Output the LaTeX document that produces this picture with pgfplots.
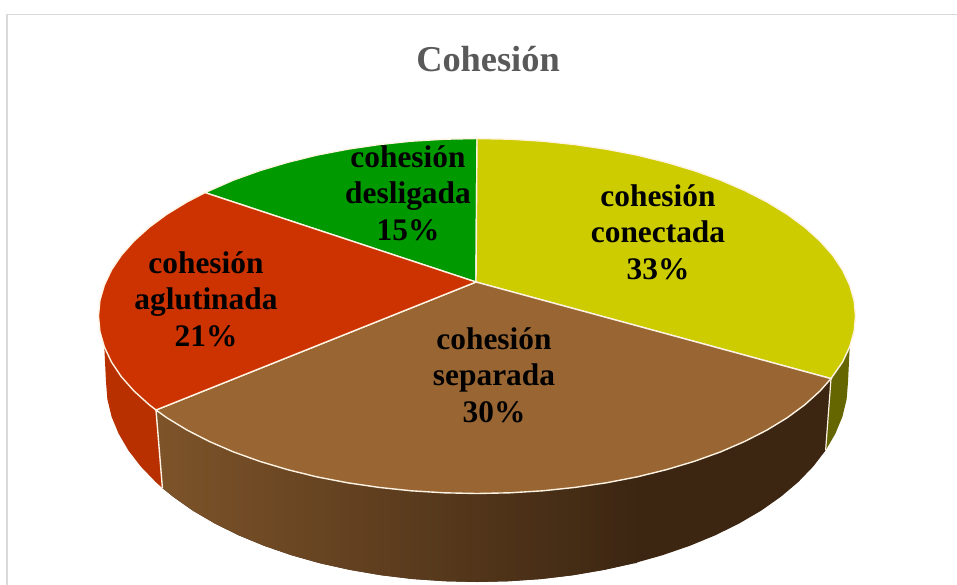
\documentclass[border=0pt]{standalone}
\usepackage{fontspec}
\setmainfont{Liberation Serif}
\usepackage{pgfplots}
\pgfplotsset{compat=1.18}

\definecolor{amarillo}{HTML}{CCCC00}
\definecolor{amarilloL}{HTML}{666600}
\definecolor{verde}{HTML}{009900}
\definecolor{rojo}{HTML}{CC3300}
\definecolor{rojoL}{HTML}{B83000}
\definecolor{cafe}{HTML}{996633}
\definecolor{cafeO}{HTML}{3C2612}
\definecolor{borde}{HTML}{FFF4E4}
\definecolor{marco}{HTML}{DADADA}
\definecolor{titulo}{HTML}{595959}

\newcommand{\etiq}{\bfseries\fontsize{31.5}{36.5}\selectfont}

\begin{document}
\begin{tikzpicture}
\begin{axis}[
    scale only axis,
    width=957bp, height=585bp,
    xmin=0, xmax=957,
    ymin=0, ymax=585,
    y dir=reverse,
    axis lines=none,
    no markers,
]
% fondo y marco
\addplot[fill=white, draw=none] coordinates {(0,0)(957,0)(957,585)(0,585)} --cycle;
\addplot[marco, line width=1.6pt] coordinates {(7,585)(7,14.5)(957,14.5)};

% paredes laterales
\addplot[fill=rojoL, draw=none] coordinates {
    (156,410)(149.2,404.75)(134,391)(121.3,376.7)(111.4,361.9)(104.3,346.8)
    (106,382)(107.4,399.4)(111.6,416.7)(118.7,433.8)(128.4,450.4)(140.8,466.5)
    (155.7,482)(162.4,488)} --cycle;
\addplot[fill=amarilloL, draw=none] coordinates {
    (831,378.6)(842.6,361.9)(849.7,346.8)(848,382)(846.6,399.4)(842.4,416.7)
    (835.3,433.8)(825.6,450.4)} --cycle;
% pared cafe: oscura entera, y el degradado solo hasta x = 640
\addplot[fill=cafeO, draw=none] coordinates {
    (156,410)(166.9,417.8)(187.1,430.1)(209.4,441.5)(233.7,452)(259.9,461.4)
    (287.8,469.7)(317,476.9)(347.6,482.8)(379,487.4)(411.3,490.8)(444,492.8)
    (477,493.5)(510,492.8)(542.7,490.8)(575,487.4)(606.4,482.8)(637,476.9)
    (666.3,469.7)(694.1,461.4)(720.3,452)(744.6,441.5)(766.9,430.1)(787.1,417.8)
    (804.8,404.75)(820,391)(831,378.6)
    (825.6,450.4)(813.2,466.5)(798.3,482)(780.9,496.7)(761.2,510.6)(739.3,523.4)
    (715.5,535.2)(689.8,545.8)(662.5,555.2)(633.8,563.3)(603.9,569.9)(573,575.2)
    (541.4,579)(509.4,581.2)(477,582)(444.6,581.2)(412.6,579)(381,575.2)
    (350.1,569.9)(320.2,563.3)(291.5,555.2)(264.2,545.8)(238.5,535.2)(214.7,523.4)
    (192.8,510.6)(173.1,496.7)(162.4,488)} --cycle;
\addplot[draw=none, left color=cafe!82!black, right color=cafeO] coordinates {
    (156,410)(166.9,417.8)(187.1,430.1)(209.4,441.5)(233.7,452)(259.9,461.4)
    (287.8,469.7)(317,476.9)(347.6,482.8)(379,487.4)(411.3,490.8)(444,492.8)
    (477,493.5)(510,492.8)(542.7,490.8)(575,487.4)(606.4,482.8)(637,476.9)
    (637,563)(633.8,563.3)(603.9,569.9)(573,575.2)
    (541.4,579)(509.4,581.2)(477,582)(444.6,581.2)(412.6,579)(381,575.2)
    (350.1,569.9)(320.2,563.3)(291.5,555.2)(264.2,545.8)(238.5,535.2)(214.7,523.4)
    (192.8,510.6)(173.1,496.7)(162.4,488)} --cycle;
\addplot[borde, line width=1.4pt] coordinates {(156,410)(162.4,488)};
\addplot[borde, line width=1.2pt] coordinates {(831,378.6)(825.6,450.4)};

% cara superior
\addplot[fill=verde, draw=borde, line width=1.4pt] coordinates {
    (476,282)(205,192.6)(233.7,180)(259.9,170.6)(287.8,162.3)(317,155.1)
    (347.6,149.2)(379,144.6)(411.3,141.2)(444,139.2)(477,138.5)} --cycle;
\addplot[fill=amarillo, draw=borde, line width=1.4pt] coordinates {
    (476,282)(477,138.5)(510,139.2)(542.7,141.2)(575,144.6)(606.4,149.2)(637,155.1)
    (666.3,162.3)(694.1,170.6)(720.3,180)(744.6,190.5)(766.9,201.9)(787.1,214.2)
    (804.8,227.25)(820,241)(832.7,255.3)(842.6,270.1)(849.7,285.2)(854.1,300.5)
    (855.5,316)(854.1,331.5)(849.7,346.8)(842.6,361.9)(831,378.6)} --cycle;
\addplot[fill=cafe, draw=borde, line width=1.4pt] coordinates {
    (476,282)(831,378.6)(820,391)(804.8,404.75)(787.1,417.8)(766.9,430.1)(744.6,441.5)
    (720.3,452)(694.1,461.4)(666.3,469.7)(637,476.9)(606.4,482.8)(575,487.4)
    (542.7,490.8)(510,492.8)(477,493.5)(444,492.8)(411.3,490.8)(379,487.4)
    (347.6,482.8)(317,476.9)(287.8,469.7)(259.9,461.4)(233.7,452)(209.4,441.5)
    (187.1,430.1)(166.9,417.8)(156,410)} --cycle;
\addplot[fill=rojo, draw=borde, line width=1.4pt] coordinates {
    (476,282)(156,410)(149.2,404.75)(134,391)(121.3,376.7)(111.4,361.9)(104.3,346.8)
    (99.9,331.5)(98.5,316)(99.9,300.5)(104.3,285.2)(111.4,270.1)(121.3,255.3)
    (134,241)(149.2,227.25)(166.9,214.2)(187.1,201.9)(205,192.6)} --cycle;

% textos
\node[text=titulo, font=\bfseries\fontsize{36.5}{40}\selectfont] at (axis cs:488,59) {Cohesión};
\node[align=center, text=black, font=\etiq] at (axis cs:408,193) {cohesión\\desligada\\15\%};
\node[align=center, text=black, font=\etiq] at (axis cs:206,299) {cohesión\\aglutinada\\21\%};
\node[align=center, text=black, font=\etiq] at (axis cs:658,232) {cohesión\\conectada\\33\%};
\node[align=center, text=black, font=\etiq] at (axis cs:494,375) {cohesión\\separada\\30\%};
\end{axis}
\end{tikzpicture}
\end{document}
